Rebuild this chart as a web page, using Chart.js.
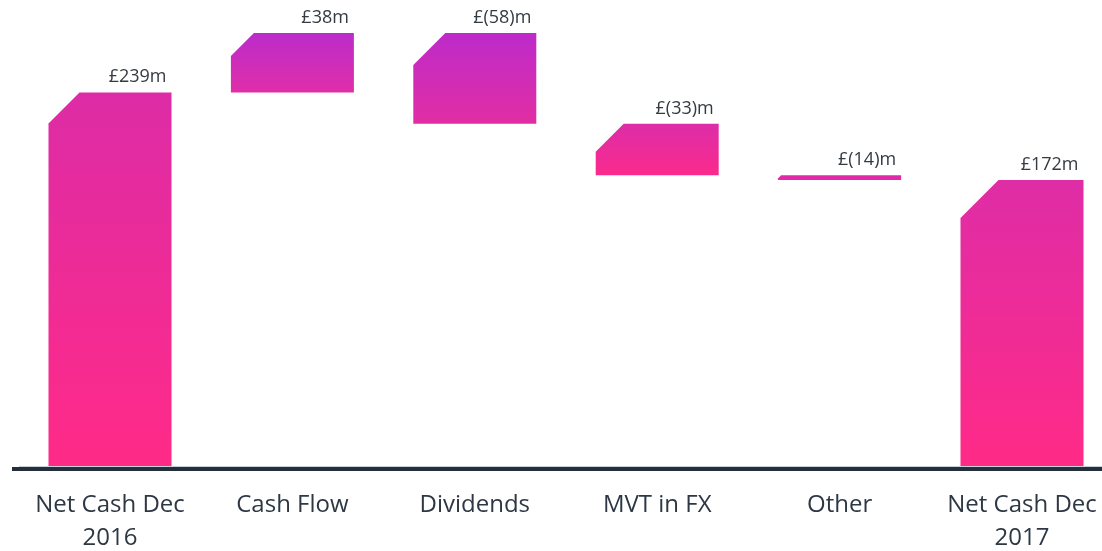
<!DOCTYPE html>
<html>
<head>
<meta charset="utf-8">
<script src="https://cdn.jsdelivr.net/npm/chart.js@4.4.1/dist/chart.umd.min.js"></script>
<style>
  html, body { margin: 0; padding: 0; background: #ffffff; overflow: hidden; }
  #wrap { width: 1102px; height: 551px; position: relative; }
</style>
</head>
<body>
<div id="wrap"><canvas id="waterfall"></canvas></div>
<script>
// chart data
const categories = [['Net Cash Dec', '2016'], 'Cash Flow', 'Dividends', 'MVT in FX', 'Other', ['Net Cash Dec', '2017']];
const barStart = [0, 239, 277, 219, 186, 0];
const barEnd = [239, 277, 219, 186, 183, 183];
const valueLabels = ['£239m', '£38m', '£(58)m', '£(33)m', '£(14)m', '£172m'];

// look of each bar: gradient top/bottom colour and size of the cut corner
const topColors = ['#dd2ca6', '#bb2ccb', '#bd2bca', '#dc2da8', '#e02aa8', '#df2da6'];
const bottomColors = ['#ff2a87', '#e02ea8', '#e22da3', '#fb2a8c', '#e02aa8', '#ff2a87'];
const cornerCuts = [31, 23, 32, 28, 3, 38];

const FONT = "'Open Sans', 'Noto Sans', sans-serif";

// draws the bars with a clipped top-left corner, the value labels and the baseline
const waterfallPlugin = {
    id: 'waterfall',
    afterDatasetsDraw(chart) {
        const ctx = chart.ctx;
        const meta = chart.getDatasetMeta(0);
        const yScale = chart.scales.y;
        const zeroY = yScale.getPixelForValue(0);

        ctx.save();
        meta.data.forEach((bar, i) => {
            const props = bar.getProps(['x', 'y', 'base', 'width'], true);
            const left = props.x - props.width / 2;
            const right = props.x + props.width / 2;
            const top = Math.min(props.y, props.base);
            const bottom = Math.max(props.y, props.base);
            const cut = Math.min(cornerCuts[i], bottom - top);

            const grad = ctx.createLinearGradient(0, top, 0, bottom);
            grad.addColorStop(0, topColors[i]);
            grad.addColorStop(1, bottomColors[i]);

            ctx.beginPath();
            ctx.moveTo(left, bottom);
            ctx.lineTo(left, top + cut);
            ctx.lineTo(left + cut, top);
            ctx.lineTo(right, top);
            ctx.lineTo(right, bottom);
            ctx.closePath();
            ctx.fillStyle = grad;
            ctx.fill();

            // value label, right aligned above the bar
            ctx.font = '18px ' + FONT;
            ctx.fillStyle = '#333a41';
            ctx.textAlign = 'right';
            ctx.textBaseline = 'alphabetic';
            ctx.fillText(valueLabels[i], right - 5, top - 10);
        });

        // baseline
        ctx.fillStyle = '#c9d0d8';
        ctx.fillRect(19, Math.round(zeroY), chart.width - 19, 1);
        ctx.fillStyle = '#232f3d';
        ctx.fillRect(12, Math.round(zeroY) + 1, chart.width - 12, 4);
        ctx.restore();
    }
};

const ctx = document.getElementById('waterfall').getContext('2d');
const waterfallChart = new Chart(ctx, {
    type: 'bar',
    data: {
        labels: categories,
        datasets: [{
            data: barStart.map((s, i) => [s, barEnd[i]]),
            backgroundColor: 'transparent',
            borderWidth: 0,
            barThickness: 123,
            clip: false
        }]
    },
    options: {
        responsive: true,
        maintainAspectRatio: false,
        animation: false,
        layout: {
            padding: { left: 110, right: 80, top: 33, bottom: 0 }
        },
        plugins: {
            legend: { display: false },
            tooltip: { enabled: false }
        },
        scales: {
            x: {
                offset: false,
                grid: { display: false, drawTicks: false },
                border: { display: false },
                ticks: {
                    color: '#2d3844',
                    font: { family: FONT, size: 24, lineHeight: 1.4 },
                    padding: 22,
                    maxRotation: 0,
                    autoSkip: false
                },
                afterFit(scale) {
                    scale.height = 85;
                    // let the layout padding alone decide the plot width
                    scale.paddingLeft = 0;
                    scale.paddingRight = 0;
                }
            },
            y: {
                display: false,
                min: 0,
                max: 277
            }
        }
    },
    plugins: [waterfallPlugin]
});
</script>
</body>
</html>
